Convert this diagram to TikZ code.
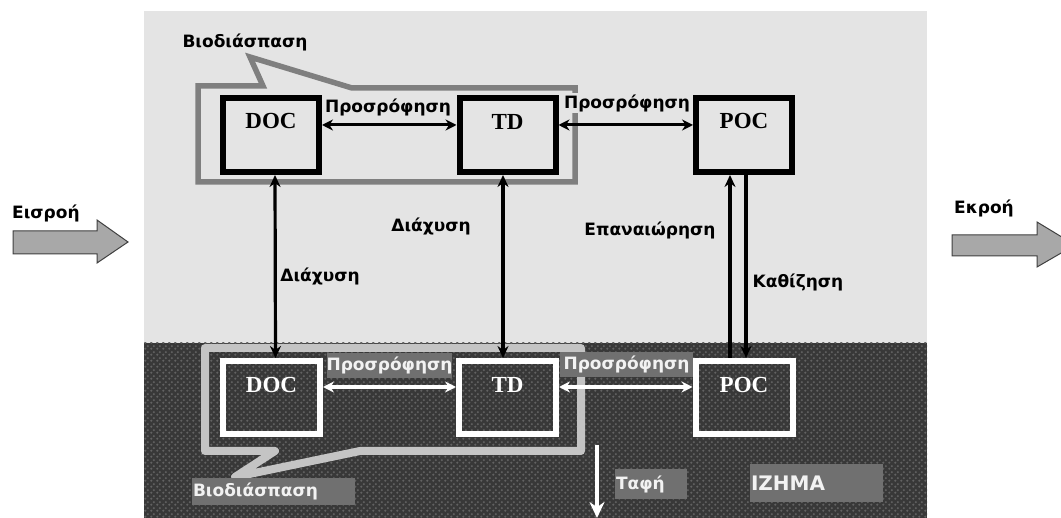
\documentclass[tikz,border=0pt]{standalone}
\usepackage{fontspec}
\setmainfont{DejaVu Sans}
\newfontfamily\boxfont{Liberation Serif}
\usetikzlibrary{arrows.meta,patterns}
\pgfdeclarepatternformonly{seddots}{\pgfqpoint{0pt}{0pt}}{\pgfqpoint{6pt}{6pt}}{\pgfqpoint{6pt}{6pt}}{%
  \pgfpathcircle{\pgfqpoint{1.5pt}{1.5pt}}{1.4pt}%
  \pgfpathcircle{\pgfqpoint{4.5pt}{4.5pt}}{1.4pt}%
  \pgfusepath{fill}}
\definecolor{water}{HTML}{E4E4E4}
\definecolor{sed}{HTML}{383838}
\definecolor{seddot}{HTML}{626262}
\definecolor{bioTop}{HTML}{7F7F7F}
\definecolor{bioBot}{HTML}{C4C4C4}
\definecolor{tagbg}{HTML}{707070}
\definecolor{flow}{HTML}{A8A8A8}
\definecolor{tagtext}{HTML}{F2F2F2}
\begin{document}
\begin{tikzpicture}[x=1pt,y=-1pt,
  wbox/.style={draw=black, line width=6pt, minimum width=96pt, minimum height=74pt, inner sep=0pt},
  sbox/.style={draw=white, line width=6pt, minimum width=97pt, minimum height=73pt, inner sep=0pt},
  wtxt/.style={font=\boxfont\bfseries\fontsize{23}{23}\selectfont, text=black, inner sep=0pt},
  stxt/.style={font=\boxfont\bfseries\fontsize{23}{23}\selectfont, text=white, inner sep=0pt},
  lab/.style={font=\bfseries\fontsize{17}{17}\selectfont, inner sep=1pt},
  tag/.style={fill=tagbg, text=tagtext, font=\bfseries\fontsize{17}{17}\selectfont, inner sep=0pt},
  ltag/.style={tag, inner xsep=1pt, align=left},
  barrow/.style={{Stealth[length=11pt,width=11pt]}-{Stealth[length=11pt,width=11pt]}, line width=3pt, draw=black},
  varrow/.style={{Stealth[length=12pt,width=11pt]}-{Stealth[length=12pt,width=11pt]}, line width=3.2pt, draw=black},
  uarrow/.style={-{Stealth[length=12pt,width=11pt]}, line width=4pt, draw=black},
  wbarrow/.style={{Stealth[length=11pt,width=11pt]}-{Stealth[length=11pt,width=11pt]}, line width=3.2pt, draw=white},
  wdarrow/.style={-{Stealth[length=16pt,width=15pt]}, line width=3.5pt, draw=white},
  flowarrow/.style={fill=flow, draw=black!75, line width=1pt, line join=miter}
]
\path[use as bounding box, clip] (0,0) rectangle (1061,518);
\fill[white] (0,0) rectangle (1061,518);

% water column and sediment
\fill[water] (144,11) rectangle (927,343);
\fill[sed] (144,343) rectangle (927,518);
\fill[pattern=seddots, pattern color=seddot] (144,343) rectangle (927,518);

% biodegradation outlines
\draw[bioTop, line width=5.5pt, line join=miter] (198,86) -- (263,86) -- (250,57) -- (352,88) -- (575,88) -- (575,182) -- (198,182) -- cycle;
\draw[bioBot, line width=8pt, line join=round] (205,348) -- (581,348) -- (581,451) -- (360,451) -- (235,477) -- (275,451) -- (205,451) -- cycle;

% boxes in water
\node[wbox, label={[wtxt, yshift=13.5pt]center:DOC}] (DOCt) at (271,135) {};
\node[wbox, label={[wtxt, yshift=13.5pt]center:TD}] (TDt) at (507.5,135) {};
\node[wbox, label={[wtxt, yshift=13.5pt]center:POC}] (POCt) at (744,135) {};

% boxes in sediment
\node[sbox, label={[stxt, yshift=12.5pt]center:DOC}] (DOCb) at (271.5,397.5) {};
\node[sbox, label={[stxt, yshift=12.5pt]center:TD}] (TDb) at (507.5,397.5) {};
\node[sbox, label={[stxt, yshift=12.5pt]center:POC}] (POCb) at (744,397.5) {};

% labels in water
\node[lab] (bioT) at (245,42) {Βιοδιάσπαση};
\node[lab] (adsT1) at (388,107) {Προσρόφηση};
\node[lab, fill=water] (adsT2) at (627,103) {Προσρόφηση};
\node[lab] (difA) at (431,226) {Διάχυση};
\node[lab] (difB) at (320,276) {Διάχυση};
\node[lab] (resus) at (650,230) {Επαναιώρηση};
\node[lab] (settle) at (798,282) {Καθίζηση};

% tags in sediment
\node[tag, minimum width=125pt, minimum height=25pt] (adsB1) at (389.5,365.5) {Προσρόφηση};
\node[tag, minimum width=133pt, minimum height=25pt] (adsB2) at (626.5,364.5) {Προσρόφηση};
\node[ltag, text width=161pt, minimum height=27pt] (bioB) at (273.5,491.5) {Βιοδιάσπαση};
\node[ltag, text width=70pt, minimum height=30pt] (burial) at (651,484) {Ταφή};
\node[ltag, text width=131pt, minimum height=38pt, font=\bfseries\fontsize{20}{20}\selectfont] (sedlab) at (816.5,483) {ΙΖΗΜΑ};

% arrows in water
\draw[barrow] ([yshift=10pt]DOCt.east) -- ([yshift=10pt]TDt.west);
\draw[barrow] ([yshift=10pt]TDt.east) -- ([yshift=10pt]POCt.west);
\draw[varrow] ([xshift=4pt]DOCt.south) -- ([xshift=4pt]DOCb.north);
\draw[varrow] ([xshift=-4.5pt]TDt.south) -- ([xshift=-4.5pt]TDb.north);
\draw[uarrow] ([xshift=-14pt]POCb.north) -- ([xshift=-14pt]POCt.south);
\draw[uarrow] ([xshift=2pt]POCt.south) -- ([xshift=2pt]POCb.north);

% arrows in sediment
\draw[wbarrow] ([yshift=10.5pt]DOCb.east) -- ([yshift=10.5pt]TDb.west);
\draw[wbarrow] ([yshift=10.5pt]TDb.east) -- ([yshift=10.5pt]POCb.west);
\coordinate (burA) at (597,445);
\coordinate (burB) at (597,518);
\draw[wdarrow] (burA) -- (burB);

% inflow and outflow
\draw[flowarrow] (13,231) -- (97,231) -- (97,220) -- (128,242) -- (97,263) -- (97,254) -- (13,254) -- cycle;
\draw[flowarrow] (952,235) -- (1037,235) -- (1037,222) -- (1075,245) -- (1037,267) -- (1037,256) -- (952,256) -- cycle;
\node[lab, anchor=west] (inflow) at (11,213) {Εισροή};
\node[lab, anchor=west] (outflow) at (953,208) {Εκροή};
\end{tikzpicture}
\end{document}
